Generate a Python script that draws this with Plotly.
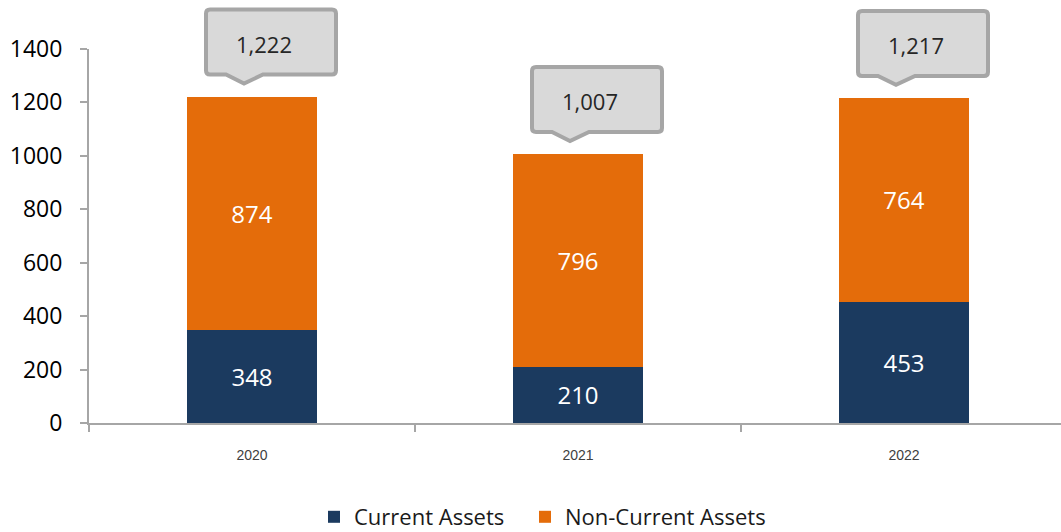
import plotly.graph_objects as go

years = ["2020", "2021", "2022"]
current_assets = [348, 210, 453]
non_current_assets = [874, 796, 764]
totals = [1222, 1007, 1217]
y_ticks = [0, 200, 400, 600, 800, 1000, 1200, 1400]

W, H = 1061, 532
ML, MR, MT, MB = 89, 0, 49, 109
PW, PH = W - ML - MR, H - MT - MB
CAT_PX = 326.0
X0 = -0.5
X1 = X0 + PW / CAT_PX
YMAX = 1400

NAVY = "#1b3a5f"
ORANGE = "#e46c0a"

fig = go.Figure()
fig.add_trace(go.Bar(
    x=years, y=current_assets, name="Current Assets",
    marker=dict(color=NAVY, line=dict(width=0)),
    text=[str(v) for v in current_assets], textposition="inside",
    insidetextanchor="middle",
    textfont=dict(color="white", size=24, family="Open Sans"),
    width=0.4, hoverinfo="skip", legend="legend",
))
fig.add_trace(go.Bar(
    x=years, y=non_current_assets, name="Non-Current Assets",
    marker=dict(color=ORANGE, line=dict(width=0)),
    text=[str(v) for v in non_current_assets], textposition="inside",
    insidetextanchor="middle",
    textfont=dict(color="white", size=24, family="Open Sans"),
    width=0.4, hoverinfo="skip", legend="legend2",
))

def px2paper(dx, dy):
    return dx / PW, dy / PH

shapes = []
annotations = []
for i, tot in enumerate(totals):
    cx = (i - X0) / (X1 - X0)
    ty = tot / YMAX
    def P(dx, dy):
        ax, ay = px2paper(dx, dy)
        return f"{cx + ax:.5f},{ty + ay:.5f}"
    L, R, B, T = -46, 84, 22, 87
    r = 4
    path = (
        f"M {P(L + r, B)} "
        f"L {P(-26, B)} L {P(-8, 13)} L {P(11, B)} "
        f"L {P(R - r, B)} Q {P(R, B)} {P(R, B + r)} "
        f"L {P(R, T - r)} Q {P(R, T)} {P(R - r, T)} "
        f"L {P(L + r, T)} Q {P(L, T)} {P(L, T - r)} "
        f"L {P(L, B + r)} Q {P(L, B)} {P(L + r, B)} Z"
    )
    shapes.append(dict(
        type="path", xref="paper", yref="paper", path=path,
        fillcolor="#d9d9d9", line=dict(color="#a6a6a6", width=4), layer="above",
    ))
    tx, tyy = px2paper(12, 53)
    annotations.append(dict(
        xref="paper", yref="paper", x=cx + tx, y=ty + tyy,
        text=f"{tot:,}", showarrow=False, xanchor="center", yanchor="middle",
        font=dict(size=22, color="#262626", family="Open Sans"),
    ))

legend_common = dict(
    orientation="h", xref="container", yref="container",
    xanchor="left", y=1 - 517 / H, yanchor="middle",
    font=dict(size=22, color="#1a1a1a", family="Open Sans"),
    itemsizing="constant", bgcolor="rgba(0,0,0,0)",
)

fig.update_layout(
    width=W, height=H,
    margin=dict(l=ML, r=MR, t=MT, b=MB, pad=0),
    barmode="stack",
    plot_bgcolor="white", paper_bgcolor="white",
    showlegend=True,
    legend=dict(x=314 / W, **legend_common),
    legend2=dict(x=525 / W, **legend_common),
    shapes=shapes,
    annotations=annotations,
    xaxis=dict(
        type="category", range=[X0, X1], showgrid=False,
        showline=True, linecolor="#a6a6a6", linewidth=2,
        ticks="outside", tickson="boundaries", ticklen=7, tickcolor="#a6a6a6", tickwidth=1.5,
        tickfont=dict(size=14, color="#404040", family="Liberation Sans"),
        ticklabelstandoff=18, fixedrange=True,
    ),
    yaxis=dict(
        range=[0, YMAX], tickvals=y_ticks, showgrid=False, zeroline=False,
        showline=True, linecolor="#a6a6a6", linewidth=2,
        ticks="outside", ticklen=7, tickcolor="#a6a6a6", tickwidth=1.5,
        tickfont=dict(size=23, color="#000000", family="Open Sans"),
        ticklabelstandoff=13, fixedrange=True,
    ),
)

fig.write_html(
    "out.html",
    config={"displayModeBar": False},
    post_script="document.body.style.margin='0';document.body.style.overflow='hidden';",
)
